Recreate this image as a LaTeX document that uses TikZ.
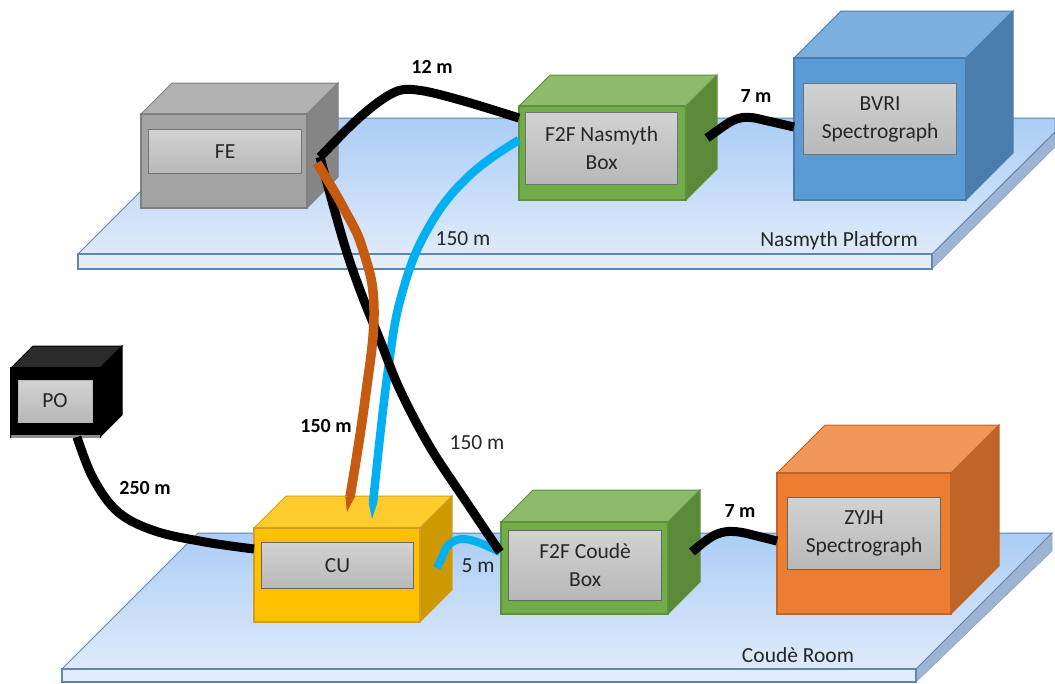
\documentclass[tikz,border=0pt]{standalone}
\usepackage{fontspec}
\setmainfont{Carlito}
\tikzset{
  lbl/.style={draw=#1,line width=1.2pt,top color=labeltop,bottom color=labelbot,align=center,inner sep=0pt,text=textgray,font=\fontsize{21.5}{28}\selectfont,anchor=north west},
  note/.style={text=textgray,inner sep=0pt,font=\fontsize{21.5}{24}\selectfont},
  boldnote/.style={text=black,inner sep=0pt,font=\fontsize{20}{24}\selectfont\bfseries},
  cable/.style={line width=9pt,line join=round},
  plat/.style={draw=platedge,line width=1pt,top color=plattop,bottom color=platbot},
  platfront/.style={draw=platedge,line width=1.2pt,fill=platfrontcol},
  platside/.style={draw=platsideedge,line width=.6pt,fill=platsidecol}
}
\definecolor{labeltop}{HTML}{D2D2D2}
\definecolor{labelbot}{HTML}{B8B8B8}
\definecolor{textgray}{HTML}{262626}
\definecolor{plattop}{HTML}{ABCDF5}
\definecolor{platbot}{HTML}{DFEAFA}
\definecolor{platedge}{HTML}{5F86AE}
\definecolor{platfrontcol}{HTML}{E2ECFA}
\definecolor{platsidecol}{HTML}{9DB4D2}
\definecolor{platsideedge}{HTML}{8AA4C6}
\definecolor{cablebrown}{HTML}{C55A11}
\definecolor{cableblue}{HTML}{00B0F0}
\definecolor{gray1}{HTML}{A3A3A3}
\definecolor{gray2}{HTML}{B2B2B2}
\definecolor{gray3}{HTML}{858585}
\definecolor{gray4}{HTML}{7F7F7F}
\definecolor{green1}{HTML}{70AD47}
\definecolor{green2}{HTML}{8CBB69}
\definecolor{green3}{HTML}{5A8A37}
\definecolor{green4}{HTML}{5F9040}
\definecolor{blue1}{HTML}{5B9BD5}
\definecolor{blue2}{HTML}{7CAFDD}
\definecolor{blue3}{HTML}{4A7DAC}
\definecolor{orange1}{HTML}{ED7D31}
\definecolor{orange2}{HTML}{F19759}
\definecolor{orange3}{HTML}{BE6527}
\definecolor{yellow1}{HTML}{FFC000}
\definecolor{yellow2}{HTML}{FFCC2E}
\definecolor{yellow3}{HTML}{CC9A00}
\definecolor{yellow4}{HTML}{CFA020}
\definecolor{black2}{HTML}{2B2B2B}
% cuboid: #1 front, #2 top, #3 side, #4 edge; #5,#6 front NW; #7,#8 front SE; #9 depth
\newcommand{\cuboid}[9]{%
  \path[fill=#2,draw=#4,line width=1pt] (#5,#6) -- ++(#9,-#9) -- (#7+#9,#6-#9) -- (#7,#6) -- cycle;
  \path[fill=#3,draw=#4,line width=1pt] (#7,#6) -- (#7+#9,#6-#9) -- (#7+#9,#8-#9) -- (#7,#8) -- cycle;
  \path[fill=#1,draw=#4,line width=1.6pt] (#5,#6) rectangle (#7,#8);
}
\begin{document}
\begin{tikzpicture}[x=1pt,y=-1pt]
\useasboundingbox (0,0) rectangle (1055,683);

% Nasmyth platform
\path[platside] (932,269) -- (932,254) -- (1055,132) -- (1055,147) -- cycle;
\path[plat] (78,254) -- (214,118) -- (1055,118) -- (1055,132) -- (932,254) -- cycle;
\path[platfront] (78,254) rectangle (932,269);

% Coude platform
\path[platside] (916,682) -- (916,669) -- (1052,533) -- (1052,551) -- cycle;
\path[plat] (62,669) -- (198,533) -- (1052,533) -- (916,669) -- cycle;
\path[platfront] (62,669) rectangle (916,682);

% Boxes
\cuboid{gray1}{gray2}{gray3}{gray4}{141}{114}{307}{208}{31}
\cuboid{green1}{green2}{green3}{green4}{519}{106}{686}{200}{31}
\cuboid{blue1}{blue2}{blue3}{blue3}{794}{58}{966}{200}{47}
\cuboid{black}{black2}{black}{black}{11}{368}{100}{437}{22}
\cuboid{yellow1}{yellow2}{yellow3}{yellow4}{254}{528}{420}{622}{32}
\cuboid{green1}{green2}{green3}{green4}{501}{522}{668}{614}{32}
\cuboid{orange1}{orange2}{orange3}{orange3}{777}{473}{951}{614}{48}
\path[fill=black!45!white] (11,435) rectangle (100,438);

% Labels
\node[lbl=black!55!white,minimum width=153pt,minimum height=44pt] (fe) at (148,129) {FE};
\node[lbl=black!55!white,minimum width=152pt,minimum height=72pt] (nas) at (525,112) {F2F Nasmyth\\Box};
\node[lbl=black!55!white,minimum width=153pt,minimum height=71pt] (bvri) at (803,83) {BVRI\\Spectrograph};
\node[lbl=labelbot,line width=0pt,minimum width=74pt,minimum height=42pt] (po) at (18,380) {PO};
\node[lbl=black!60!white,minimum width=152pt,minimum height=46pt] (cu) at (261,542) {CU};
\node[lbl=black!60!white,minimum width=153pt,minimum height=70pt] (cou) at (508,530) {F2F Coud\`e\\Box};
\node[lbl=black!60!white,minimum width=153pt,minimum height=72pt] (zyjh) at (787,497) {ZYJH\\Spectrograph};

% Connector end points on the boxes
\coordinate (feport) at (320,157);
\coordinate (feport2) at (317,163);
\coordinate (nasin) at (519,118);
\coordinate (nasin2) at (519,140);
\coordinate (nasout) at (707,138);
\coordinate (bvriin) at (794,127);
\coordinate (poout) at (77,437);
\coordinate (cuin) at (254,549);
\coordinate (cutop1) at (350,497);
\coordinate (cutop2) at (373,503);
\coordinate (cuside) at (437,568);
\coordinate (couin) at (500,552);
\coordinate (couout) at (692,552);
\coordinate (zyjhin) at (777,541);

% Cables
\draw[cable] plot[smooth,tension=.6] coordinates {(poout) (93,478) (118,512) (155,531) (205,542) (cuin)};
\draw[cable,cableblue,line width=8pt] (couin) .. controls (475,540) and (458,532) .. (446,548) -- (cuside);
\draw[cable] plot[smooth,tension=.6] coordinates {(feport) (360,117) (393,93) (417,90) (460,100) (nasin)};
\draw[cable] (nasout) .. controls (730,122) and (735,115) .. (755,118) -- (bvriin);
\draw[cable] (couout) .. controls (712,535) and (720,528) .. (745,533) -- (zyjhin);
\draw[cable,cableblue,line width=8.5pt] plot[smooth,tension=.7] coordinates {(nasin2) (470,175) (430,225) (403,290) (388,370) (cutop2)};
\fill[cableblue] (368.7,503) -- (377.3,503) -- (372,519) -- cycle;
\draw[cable] plot[smooth,tension=.6] coordinates {(feport) (343,240) (360,290) (380,340) (400,390) (430,447) (467,503) (couin)};
\draw[cable,cablebrown,line width=9.5pt] plot[smooth,tension=.7] coordinates {(feport2) (343,207) (363,250) (374,310) (365,400) (cutop1)};
\fill[cablebrown] (345.3,497) -- (354.7,497) -- (347,512) -- cycle;

% Texts
\node[boldnote] (t12) at (432,67) {12 m};
\node[boldnote] (t7a) at (756,96) {7 m};
\node[note] (t150a) at (463,239) {150 m};
\node[note] (tnas) at (839,241) {Nasmyth Platform};
\node[boldnote] (t150b) at (326,426) {150 m};
\node[note] (t150c) at (477,443) {150 m};
\node[boldnote] (t250) at (145,488) {250 m};
\node[boldnote] (t7b) at (740,511) {7 m};
\node[note] (t5) at (478,566) {5 m};
\node[note] (tcou) at (798,655) {Coud\`e Room};
\end{tikzpicture}
\end{document}
